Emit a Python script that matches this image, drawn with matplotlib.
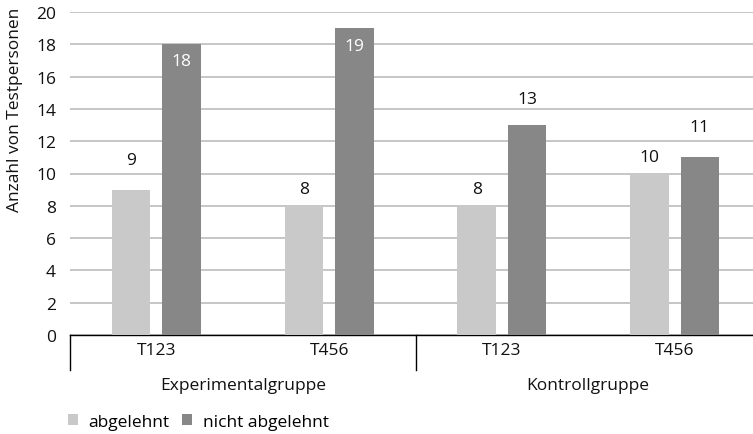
import matplotlib
matplotlib.use("Agg")
import matplotlib.pyplot as plt
from matplotlib.patches import Patch
import matplotlib.transforms as mtransforms
import numpy as np

# ---- data ----
groups = ["Experimentalgruppe", "Kontrollgruppe"]
subcats = ["T123", "T456", "T123", "T456"]
series_names = ["abgelehnt", "nicht abgelehnt"]
abgelehnt = [9, 8, 8, 10]
nicht_abgelehnt = [18, 19, 13, 11]
yticks = list(range(0, 21, 2))

# label offsets (points; positive = above bar top, negative = inside)
off_abg = [21, 12, 12, 12]
off_nicht = [-12, -13, 19, 22]

plt.rcParams['font.family'] = ['Open Sans', 'DejaVu Sans']
FS = 12.5

W, H = 753, 435
fig = plt.figure(figsize=(W / 100, H / 100), dpi=100)
left_px, right_px, top_px, bot_px = 70, 761, 13, 336
axw = right_px - left_px
axh = bot_px - top_px
ax = fig.add_axes([left_px / W, 1 - bot_px / H, axw / W, axh / H])

c_light = "#c8c9c8"
c_dark = "#868786"
x = np.arange(len(subcats))
bw = 0.222
gap = 0.07
xa = x - (bw + gap) / 2
xn = x + (bw + gap) / 2

ax.bar(xa, abgelehnt, width=bw, color=c_light, zorder=3)
ax.bar(xn, nicht_abgelehnt, width=bw, color=c_dark, zorder=3)

tc = "#111111"
for xi, v, o in zip(xa, abgelehnt, off_abg):
    ax.annotate(str(v), (xi, v), xytext=(0, o), textcoords="offset points",
                ha="center", va="center", fontsize=FS, color=tc)
for xi, v, o in zip(xn, nicht_abgelehnt, off_nicht):
    col = "white" if o < 0 else tc
    ax.annotate(str(v), (xi, v), xytext=(0, o), textcoords="offset points",
                ha="center", va="center", fontsize=FS, color=col)

ax.set_xlim(-0.5, len(subcats) - 0.5)
ax.set_ylim(0, 20)
ax.set_yticks(yticks)
ax.set_yticklabels([str(t) for t in yticks], fontsize=FS, color=tc)
ax.tick_params(axis="y", length=0, pad=10)
ax.yaxis.grid(True, color="#bcbcbc", linewidth=1.2, zorder=0)
ax.set_axisbelow(True)
for s in ["top", "right", "left"]:
    ax.spines[s].set_visible(False)
ax.spines["bottom"].set_color("black")
ax.spines["bottom"].set_linewidth(1.0)

ax.set_xticks(x)
ax.set_xticklabels(subcats, fontsize=FS, color=tc)
ax.tick_params(axis="x", length=0, pad=5)

ax.set_ylabel("Anzahl von Testpersonen", fontsize=FS, color=tc, va="center")
ax.yaxis.set_label_coords((15 - left_px) / axw, (bot_px - 110) / axh)

# group separators and labels
trans = mtransforms.blended_transform_factory(ax.transData, ax.transAxes)
sep_len = 35 / axh
for xs in [-0.5, 1.5, 3.5]:
    ax.plot([xs, xs], [0, -sep_len], transform=trans, color="black", lw=1.0, clip_on=False)

for gi, g in enumerate(groups):
    ax.text(gi * 2 + 0.5, -50 / axh, g, transform=trans, ha="center", va="center",
            fontsize=FS, color=tc)

handles = [Patch(facecolor=c_light, edgecolor="none"), Patch(facecolor=c_dark, edgecolor="none")]
fig.legend(handles, series_names, loc="center left", bbox_to_anchor=(52 / W, 1 - 423 / H),
           ncol=2, frameon=False, fontsize=FS, handlelength=0.6, handleheight=0.6,
           handletextpad=0.6, columnspacing=0.7)

fig.savefig("out.png", dpi=100)
